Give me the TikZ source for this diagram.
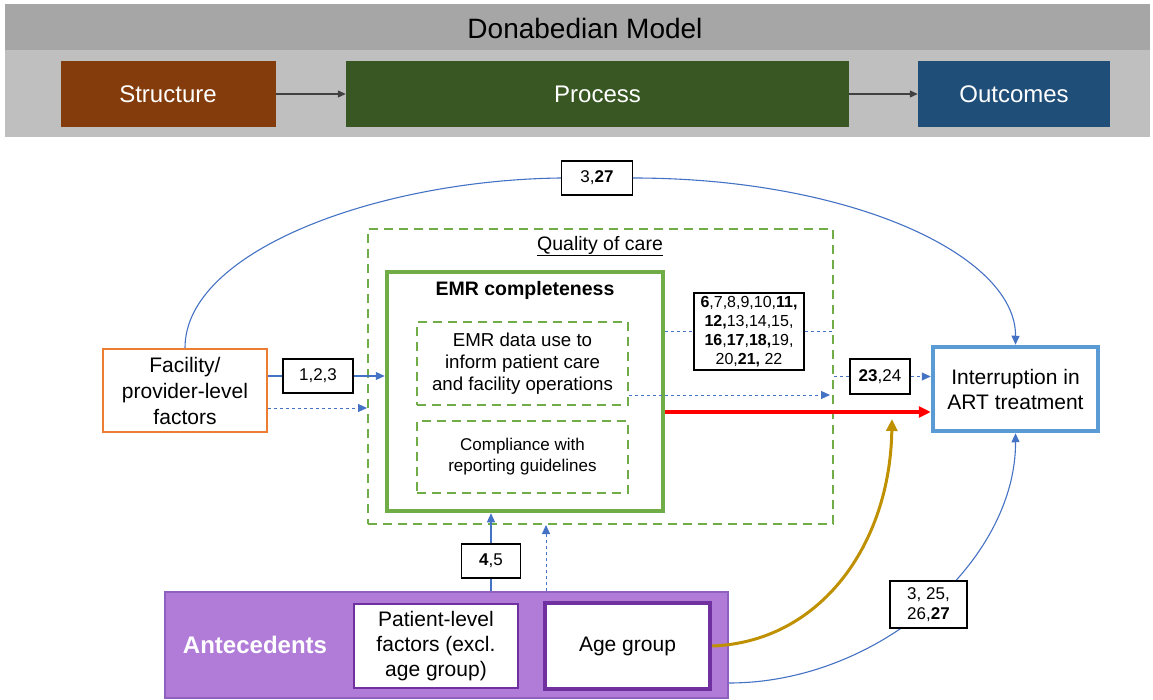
\documentclass[tikz,border=0pt]{standalone}
\usepackage{fontspec}
\setmainfont{Liberation Sans}
\usetikzlibrary{arrows.meta,backgrounds}
\definecolor{banddark}{HTML}{A6A6A6}
\definecolor{bandlight}{HTML}{BFBFBF}
\definecolor{structc}{HTML}{843C0C}
\definecolor{procc}{HTML}{385723}
\definecolor{outc}{HTML}{1F4E79}
\definecolor{arrgray}{HTML}{404040}
\definecolor{greenc}{HTML}{70AD47}
\definecolor{bluel}{HTML}{4472C4}
\definecolor{bluebox}{HTML}{5B9BD5}
\definecolor{orangec}{HTML}{ED7D31}
\definecolor{purpfill}{HTML}{B07CD8}
\definecolor{purpedge}{HTML}{9060C0}
\definecolor{purpdark}{HTML}{7030A0}
\definecolor{goldc}{HTML}{BF9000}
\definecolor{redc}{HTML}{FF0000}
\newcommand{\fsz}[2]{\fontsize{#1}{#2}\selectfont}
\begin{document}
\begin{tikzpicture}[x=1pt,y=-1pt,
  hdr/.style={draw=none,inner sep=0pt,text=white,font=\fsz{24}{28}},
  lbl/.style={draw=black,line width=1.1pt,fill=white,inner sep=0pt,align=center,font=\fsz{16}{19}},
  blueline/.style={draw=bluel,line width=1.1pt},
  barr/.style={-{Triangle[length=9pt,width=8pt]}},
  dotline/.style={draw=bluel,line width=1pt,dash pattern=on 3pt off 3pt},
  gdash/.style={draw=greenc,line width=2pt,dash pattern=on 9pt off 6pt},
  wbox/.style={fill=white,inner sep=0pt,align=center}
]
\useasboundingbox (0,0) rectangle (1153,700);
% header band
\fill[banddark] (5,4) rectangle (1150,50);
\fill[bandlight] (5,50) rectangle (1150,137);
\node[font=\fsz{28}{32}] (title) at (585,28) {Donabedian Model};
\node[hdr,fill=structc,minimum width=215pt,minimum height=66pt] (struct) at (168,94) {Structure};
\node[hdr,fill=procc,minimum width=503pt,minimum height=66pt] (proc) at (597.5,94) {Process};
\node[hdr,fill=outc,minimum width=192pt,minimum height=66pt] (outc) at (1014,94) {Outcomes};
\draw[arrgray,line width=1.2pt,-{Triangle[length=8pt,width=7pt]}] (struct.east) -- (proc.west);
\draw[arrgray,line width=1.2pt,-{Triangle[length=8pt,width=7pt]}] (proc.east) -- (outc.west);

% quality of care
\node[gdash,minimum width=465pt,minimum height=295pt,inner sep=0pt] (quality) at (600.5,376.5) {};
\node[font=\fsz{19.5}{23}] (qlabel) at (600,246) {\underline{Quality of care}};
\node[draw=greenc,line width=4.5pt,minimum width=276pt,minimum height=239pt,inner sep=0pt] (emr) at (525,391.5) {};
\node[font=\bfseries\fsz{19.5}{23}] (emrtitle) at (525,290) {EMR completeness};
\node[gdash,wbox,minimum width=211pt,minimum height=83pt,font=\fsz{18.7}{22}] (inner1) at (522.5,363.5) {EMR data use to\\inform patient care\\and facility operations};
\node[gdash,wbox,minimum width=211pt,minimum height=72pt,font=\fsz{17}{21}] (inner2) at (522.5,457) {Compliance with\\reporting guidelines};

% facility and outcome
\node[draw=orangec,line width=2.2pt,wbox,minimum width=164pt,minimum height=83pt,font=\fsz{21}{26}] (fac) at (185,390.5) {Facility/\\provider-level\\factors};
\node[draw=bluebox,line width=4.5pt,wbox,minimum width=165pt,minimum height=84pt,font=\fsz{21}{25}] (intr) at (1015.5,389) {Interruption in\\ART treatment};

% antecedents
\node[draw=purpedge,fill=purpfill,line width=1.5pt,minimum width=563pt,minimum height=106pt,inner sep=0pt] (ante) at (446.5,645) {};
\node[text=white,font=\bfseries\fsz{24}{28}] (antetext) at (255,645) {Antecedents};
\node[draw=purpdark,line width=2.5pt,wbox,minimum width=164pt,minimum height=84pt,font=\fsz{21}{25}] (pat) at (436,646) {Patient-level\\factors (excl.\\age group)};
\node[draw=purpdark,line width=4.5pt,wbox,minimum width=165pt,minimum height=86pt,font=\fsz{21}{25}] (age) at (627.5,646) {Age group};

% labels
\node[lbl,minimum width=70pt,minimum height=34pt,font=\fsz{17}{20}] (l123) at (318,376) {1,2,3};
\node[lbl,minimum width=71pt,minimum height=34pt,font=\fsz{17}{20}] (l327) at (597,178) {3,\textbf{27}};
\node[lbl,minimum width=110pt,minimum height=77pt] (l6) at (749,331.5) {\textbf{6},7,8,9,10,\textbf{11,}\\\textbf{12,}13,14,15,\\\textbf{16},\textbf{17},\textbf{18,}19,\\20,\textbf{21,} 22};
\node[lbl,minimum width=60pt,minimum height=35pt,font=\fsz{17}{20}] (l2324) at (880,376.5) {\textbf{23},24};
\node[lbl,minimum width=59pt,minimum height=34pt,font=\fsz{17}{20}] (l45) at (491,561) {\textbf{4},5};
\node[lbl,minimum width=77pt,minimum height=47pt,font=\fsz{17}{20}] (l325) at (928.5,604.5) {3, 25,\\26,\textbf{27}};

% coordinates
\coordinate (fdot) at ([yshift=-17.5pt]fac.east);
\coordinate (d1) at ([yshift=-31.5pt]inner1.east);
\coordinate (d1e) at ([xshift=-4pt]d1 -| quality.east);
\coordinate (r1) at ([yshift=-20.5pt]emr.east);
\coordinate (d2) at ([xshift=55pt]l45 |- ante.north);
\coordinate (b1) at ([yshift=-38pt]ante.east);
\coordinate (gend) at (892,419);

% connectors
\draw[blueline] (fac.east |- l123.west) -- (l123.west);
\draw[blueline,barr] (l123.east) -- (l123.east -| emr.west);
\draw[dotline,barr] (fdot) -- (fdot -| quality.west);
\draw[dotline] (emr.east |- l6) -- (l6.west);
\draw[dotline] (l6.east) -- (l6 -| quality.east);
\draw[dotline,barr] (d1) -- (d1e);
\draw[dotline] (quality.east |- l2324) -- (l2324.west);
\draw[dotline,barr] (l2324.east) -- (l2324 -| intr.west);
\draw[draw=redc,line width=3.5pt,-{Triangle[length=12pt,width=11pt]}] (r1) -- (r1 -| intr.west);
\draw[blueline] (fac.north) .. controls (185,250) and (380,180) .. (l327.west);
\draw[blueline,barr] (l327.east) .. controls (850,178) and (1016,255) .. (intr.north);
\draw[blueline] (ante.north -| l45) -- (l45.south);
\draw[blueline,barr] (l45.north) -- (l45 |- emr.south);
\draw[dotline,barr] (d2) -- (d2 |- quality.south);
\draw[draw=goldc,line width=3pt,-{Triangle[length=12pt,width=11pt]}] (age.east) .. controls (820,642) and (890,545) .. (gend);
\begin{scope}[on background layer]
\draw[blueline,barr] (b1) .. controls (880,683) and (1016,560) .. (intr.south);
\end{scope}
\end{tikzpicture}
\end{document}
